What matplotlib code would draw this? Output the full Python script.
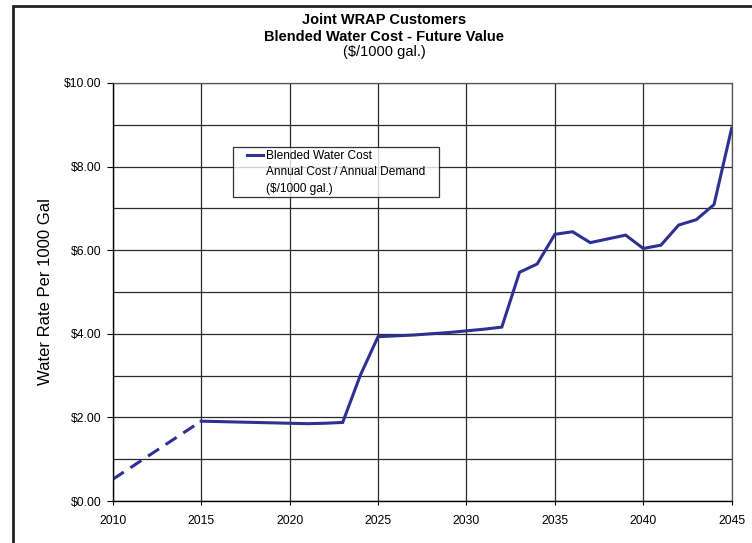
import matplotlib.pyplot as plt
from matplotlib.lines import Line2D
from matplotlib.legend_handler import HandlerLine2D
from matplotlib.patches import Rectangle

plt.rcParams['font.family'] = ['Liberation Sans', 'DejaVu Sans']

# blended water cost, $/1000 gal
years = [2015, 2016, 2017, 2018, 2019, 2020, 2021, 2022, 2023, 2024, 2025,
         2026, 2027, 2028, 2029, 2030, 2031, 2032, 2033, 2034, 2035, 2036,
         2037, 2038, 2039, 2040, 2041, 2042, 2043, 2044, 2045]
cost = [1.91, 1.90, 1.89, 1.88, 1.87, 1.86, 1.85, 1.86, 1.88, 3.01, 3.93,
        3.95, 3.97, 4.00, 4.03, 4.07, 4.11, 4.16, 5.47, 5.67, 6.38, 6.44,
        6.18, 6.27, 6.36, 6.04, 6.12, 6.60, 6.73, 7.09, 8.92]

# early years shown dashed
early_years = [2010, 2015]
early_cost = [0.52, 1.91]

legend_lines = ["Blended Water Cost", "Annual Cost / Annual Demand", "($/1000 gal.)"]
ytick_vals = [0, 2, 4, 6, 8, 10]
xtick_vals = [2010, 2015, 2020, 2025, 2030, 2035, 2040, 2045]

navy = '#2E3192'
gridc = '#2a2a2a'

fig = plt.figure(figsize=(7.52, 5.43), dpi=100)
ax = fig.add_axes([0.150, 0.0773, 0.823, 0.770])

ax.plot(early_years, early_cost, color=navy, lw=2.2, dashes=(4.3, 2.6))
ax.plot(years, cost, color=navy, lw=2.2, solid_joinstyle='miter')

ax.set_xlim(2010, 2045)
ax.set_ylim(0, 10)
ax.set_xticks(xtick_vals)
ax.set_yticks(ytick_vals)
ax.set_yticks(range(0, 11), minor=True)
ax.set_yticklabels(['${:.2f}'.format(v) for v in ytick_vals])
ax.tick_params(axis='y', which='major', direction='out', length=4, width=0.8,
               pad=4, labelsize=8.7)
ax.tick_params(axis='y', which='minor', length=0)
ax.tick_params(axis='x', direction='out', length=3, width=0.8, pad=7,
               labelsize=8.7)
ax.grid(True, which='both', axis='y', color=gridc, lw=0.9)
ax.grid(True, which='major', axis='x', color=gridc, lw=0.9)
ax.set_axisbelow(True)
for s in ['left', 'bottom']:
    ax.spines[s].set_color('black')
    ax.spines[s].set_linewidth(1.0)
for s in ['top', 'right']:
    ax.spines[s].set_color('#555555')
    ax.spines[s].set_linewidth(0.9)

ax.set_ylabel('Water Rate Per 1000 Gal', fontsize=12)
ax.yaxis.set_label_coords(-0.096, 0.5)

# legend: line sits next to the first text line only, with extra space on its left
key = Line2D([], [], color=navy, lw=2.2)
handles = [key, Line2D([], [], linestyle='none'), Line2D([], [], linestyle='none')]
leg = ax.legend(handles, legend_lines, loc='upper left',
                bbox_to_anchor=(0.195, 0.732, 0.3326, 0.114), mode='expand',
                fontsize=8.6, frameon=True, fancybox=False, shadow=False,
                handlelength=2.27, handletextpad=0.29, labelspacing=0.38,
                borderpad=0.2, borderaxespad=0,
                handler_map={key: HandlerLine2D(xpad=0.93)})
leg.get_frame().set_edgecolor('black')
leg.get_frame().set_linewidth(0.9)

fig.text(0.511, 0.9567, 'Joint WRAP Customers', ha='center', va='baseline',
         fontsize=10.5, fontweight='bold')
fig.text(0.511, 0.9245, 'Blended Water Cost - Future Value', ha='center',
         va='baseline', fontsize=10.5, fontweight='bold')
fig.text(0.511, 0.896, '($/1000 gal.)', ha='center', va='baseline',
         fontsize=10.5)

# outer frame, cut off on the right and bottom
fig.patches.append(Rectangle((0.0173, -0.05), 1.1, 1.039, transform=fig.transFigure,
                             fill=False, edgecolor='#222222', lw=2.0,
                             clip_on=False))

fig.savefig('out.png', dpi=100)
